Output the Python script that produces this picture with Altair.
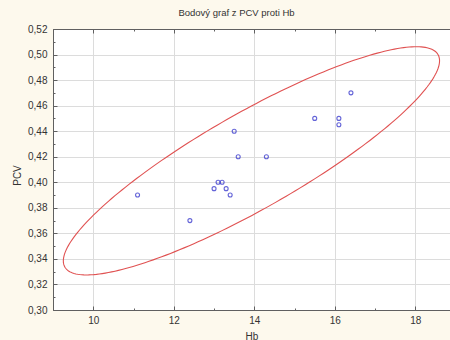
import altair as alt
import numpy as np
import pandas as pd

# data
hb = [11.1, 12.4, 13.0, 13.1, 13.2, 13.3, 13.4, 13.5, 13.6, 14.3, 15.5, 16.1, 16.1, 16.4]
pcv = [0.39, 0.37, 0.395, 0.40, 0.40, 0.395, 0.39, 0.44, 0.42, 0.42, 0.45, 0.45, 0.445, 0.47]

x_ticks = [9, 10, 11, 12, 13, 14, 15, 16, 17, 18]
y_ticks = [0.30, 0.31, 0.32, 0.33, 0.34, 0.35, 0.36, 0.37, 0.38, 0.39, 0.40, 0.41,
           0.42, 0.43, 0.44, 0.45, 0.46, 0.47, 0.48, 0.49, 0.50, 0.51, 0.52]

# scale factor of the prediction ellipse (Statistica 0.95 prediction ellipse)
ELLIPSE_K = 3.0

pts = pd.DataFrame({"Hb": hb, "PCV": pcv})

X = np.array([hb, pcv])
mu = X.mean(axis=1)
cov = np.cov(X)
vals, vecs = np.linalg.eigh(cov)
t = np.linspace(0, 2 * np.pi, 241)
circle = np.stack([np.cos(t), np.sin(t)])
ell = mu[:, None] + ELLIPSE_K * (vecs @ (np.sqrt(vals)[:, None] * circle))
ell_df = pd.DataFrame({"Hb": ell[0], "PCV": ell[1], "i": np.arange(len(t))})

FONT = "Liberation Sans"
AX = "#606060"
GRID = "#dcdcdc"

xscale = alt.Scale(domain=[9, 18.86], nice=False, zero=False)
yscale = alt.Scale(domain=[0.30, 0.52], nice=False, zero=False)

x_even = "datum.value % 2 == 0"
y_even = "round(datum.value * 100) % 2 == 0"

x_axis = alt.Axis(
    values=x_ticks,
    labelExpr=f"{x_even} ? format(datum.value, 'd') : ''",
    labelOverlap=False,
    grid=True, gridColor=GRID,
    gridOpacity={"condition": {"test": x_even, "value": 1}, "value": 0},
    tickSize={"condition": {"test": x_even, "value": -4}, "value": -2},
    tickColor=AX, domainColor=AX,
    labelFont=FONT, labelFontSize=10, labelColor="#333333", labelPadding=9,
    title="Hb", titleFont=FONT, titleFontSize=10, titleFontWeight="normal",
    titleColor="#333333", titlePadding=4,
)
y_axis = alt.Axis(
    values=y_ticks,
    labelExpr=f"{y_even} ? replace(format(datum.value, '.2f'), '.', ',') : ''",
    labelOverlap=False,
    grid=True, gridColor=GRID,
    gridOpacity={"condition": {"test": y_even, "value": 1}, "value": 0},
    tickSize={"condition": {"test": y_even, "value": -4}, "value": -2},
    tickColor=AX, domainColor=AX,
    labelFont=FONT, labelFontSize=10, labelColor="#333333", labelPadding=10,
    title="PCV", titleFont=FONT, titleFontSize=10, titleFontWeight="normal",
    titleColor="#333333", titlePadding=5, titleY=146,
)
top_axis = alt.Axis(
    orient="top", values=x_ticks, labels=False, grid=False, title=None,
    labelOverlap=False,
    tickSize={"condition": {"test": x_even, "value": -4}, "value": -2},
    tickColor=AX, domainColor=AX,
)

points = alt.Chart(pts).mark_point(
    shape="circle", filled=False, color="#2323c8", size=16, strokeWidth=1.1
).encode(
    x=alt.X("Hb:Q", scale=xscale, axis=x_axis),
    y=alt.Y("PCV:Q", scale=yscale, axis=y_axis),
)

ellipse = alt.Chart(ell_df).mark_line(
    color="#e05252", strokeWidth=1.1, clip=True
).encode(
    x=alt.X("Hb:Q", scale=xscale, axis=top_axis),
    y=alt.Y("PCV:Q", scale=yscale, axis=y_axis),
    order="i:Q",
)

chart = alt.layer(ellipse, points).resolve_axis(x="independent").properties(
    width=397, height=281,
    autosize=alt.AutoSizeParams(type="none"),
    padding={"left": 53, "top": 29, "right": 0, "bottom": 30},
    background="#fdf9ed",
    title=alt.TitleParams(
        "Bodový graf z PCV proti Hb", font=FONT, fontSize=9.5, fontWeight="normal",
        color="#333333", anchor="middle", dx=-15, dy=7, offset=6, baseline="alphabetic",
    ),
).configure_view(stroke="#555555", fill="white", strokeWidth=1).configure_axis(
    labelOverlap=False
)

chart.save("out.html", embed_options={"renderer": "svg", "actions": False})
